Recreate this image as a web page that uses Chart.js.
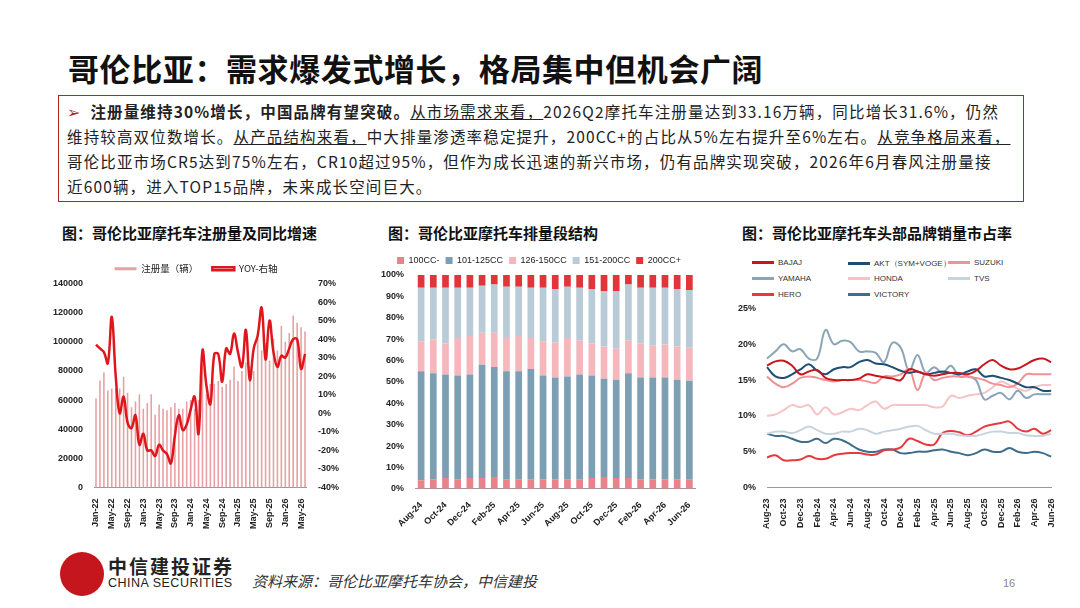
<!DOCTYPE html>
<html><head><meta charset="utf-8">
<script src="https://cdn.jsdelivr.net/npm/chart.js@4/dist/chart.umd.min.js"></script>
<style>
body{margin:0;width:1080px;height:608px;background:#fff;font-family:"Noto Sans CJK SC","Liberation Sans",sans-serif;position:relative;overflow:hidden}
.abs{position:absolute}
#title{left:68px;top:45px;font-size:31px;font-weight:bold;color:#111;letter-spacing:0.6px}
#box{left:58px;top:95px;width:966px;height:107px;border:1.5px solid #b0252a;box-sizing:border-box}
.ln{position:absolute;left:8px;font-size:15.5px;color:#222;white-space:nowrap;letter-spacing:1.15px}
.u{text-decoration:underline}
.ct{font-size:15px;font-weight:bold;color:#111;top:222px}
.cw{position:absolute}
.lg{position:absolute;font-family:"Liberation Sans";font-size:8px;color:#333;display:flex;align-items:center}
.lg i{display:inline-block;width:22px;height:3px;margin-right:4px}
</style></head><body>
<div id="title" class="abs">哥伦比亚：需求爆发式增长，格局集中但机会广阔</div>
<div id="box" class="abs">
<div class="ln" style="top:4px"><span style="color:#b0252a">➢</span>&nbsp;&nbsp;<b>注册量维持30%增长，中国品牌有望突破。</b><span class="u">从市场需求来看，</span>2026Q2摩托车注册量达到33.16万辆，同比增长31.6%，仍然</div>
<div class="ln" style="top:29px">维持较高双位数增长。<span class="u">从产品结构来看，</span>中大排量渗透率稳定提升，200CC+的占比从5%左右提升至6%左右。<span class="u">从竞争格局来看，</span></div>
<div class="ln" style="top:54px">哥伦比亚市场CR5达到75%左右，CR10超过95%，但作为成长迅速的新兴市场，仍有品牌实现突破，2026年6月春风注册量接</div>
<div class="ln" style="top:79px">近600辆，进入TOP15品牌，未来成长空间巨大。</div>
</div>
<div class="abs ct" style="left:62px">图：哥伦比亚摩托车注册量及同比增速</div>
<div class="abs ct" style="left:388px">图：哥伦比亚摩托车排量段结构</div>
<div class="abs ct" style="left:742px">图：哥伦比亚摩托车头部品牌销量市占率</div>
<div class="cw" style="left:50px;top:250px;width:292px;height:282px"><canvas id="c1"></canvas></div>
<div class="cw" style="left:378px;top:250px;width:322px;height:282px"><canvas id="c2"></canvas></div>
<div class="cw" style="left:735px;top:300px;width:330px;height:232px"><canvas id="c3"></canvas></div>
<div id="lg3"></div>
<div class="abs" style="left:60px;top:552px;width:44px;height:44px;border-radius:50%;background:#c4161c"></div>
<div class="abs" style="left:108px;top:552px;font-size:19px;font-weight:bold;color:#222;letter-spacing:2px">中信建投证券</div>
<div class="abs" style="left:108px;top:576px;font-size:12.5px;font-family:'Liberation Sans';color:#222;letter-spacing:0.5px">CHINA SECURITIES</div>
<div class="abs" style="left:252px;top:570px;font-size:15px;font-style:italic;color:#333">资料来源：哥伦比亚摩托车协会，中信建投</div>
<div class="abs" style="left:1003px;top:577px;font-size:11px;color:#888;font-family:'Liberation Sans'">16</div>
<script>
const months1 = [];
const mn = ["Jan","Feb","Mar","Apr","May","Jun","Jul","Aug","Sep","Oct","Nov","Dec"];
for (let y = 22; y <= 26; y++) for (let m = 0; m < 12; m++) { if (y === 26 && m > 5) break; months1.push(mn[m] + "-" + y); }
const regs = [61000,73500,79000,66500,68000,68000,68000,76000,65000,55000,59000,64000,54000,58000,64000,50000,57000,54000,53000,55000,58000,54000,54000,59000,60000,54000,60000,85000,64000,71000,71000,73000,69000,71000,74000,83000,73000,80000,86000,83000,80000,103000,94000,99000,87000,102000,94000,111000,100000,106000,118000,113000,110000,107000];
const yoy = [37,35,33,27,52,20,0,9,-5,-8,-1,-17,-11,-20,-20,-23,-17,-20,-22,-27,-12,-1,-9,-6,2,9,-11,34,15,5,32,32,17,35,32,43,33,25,45,18,35,42,57,29,50,33,25,31,30,35,40,40,24,32];

const months2 = ["Aug-24","Sep-24","Oct-24","Nov-24","Dec-24","Jan-25","Feb-25","Mar-25","Apr-25","May-25","Jun-25","Jul-25","Aug-25","Sep-25","Oct-25","Nov-25","Dec-25","Jan-26","Feb-26","Mar-26","Apr-26","May-26","Jun-26"];
const cc100 = [4,4.5,5,4.5,5,5,5.5,4.5,4.5,4.5,4.5,4.5,4.5,4.5,5,5.5,5,5,4.5,4.5,4.5,4.5,4.5];
const cc125 = [51,49.5,48.5,48.5,48.5,53,51.5,50.5,50.5,51.5,48.5,47.5,48,49,48,46,46,49,47.5,47.5,47.5,46.5,46];
const cc150 = [14,16,14.5,17.5,18,15,16,15.5,16.5,14.5,16,16.5,18,16,15,15,14.5,15.5,16,15,15.5,15.5,15.5];
const cc200 = [25,24,26,23.5,22.5,22,22.5,24,23,23.5,25,25,24,24.5,25.5,26,27,26,26,27,26.5,27,27];
const cc200p = [6,6,6,6,6,5,4.5,5.5,5.5,6,6,6.5,5.5,6,6.5,7.5,7.5,4.5,6,6,6,6.5,7];

const months3 = [];
for (let i = 7; i < 7 + 35; i++) months3.push(mn[i % 12] + "-" + (23 + Math.floor(i / 12)));
const brands = ["BAJAJ","AKT（SYM+VOGE）","SUZUKI","YAMAHA","HONDA","TVS","HERO","VICTORY"];
const bajaj = [17,17.6,17.7,17,15.8,16.2,16.4,15.3,15,15,15,15.2,15.8,15.6,15.4,15.2,15,16.5,16.2,15.8,15.6,15.8,16,16,15.8,16.3,17.2,17.8,17,16.5,16.6,17.2,17.8,18,17.5];
const akt = [16.8,15.5,15.3,15.8,16.5,17.2,16.3,15.8,16.5,16.8,16.8,17.5,17.8,17.3,17.2,16.8,16.3,16,16.2,15.8,16,16.2,16,15.8,16.2,16.5,15.5,15.6,15.3,15,14.5,14,14,13.5,13.5];
const suzuki = [15.5,14.5,14,14.5,15.3,15.5,15.3,15,14.8,15,15,15,14.8,14.6,15.5,15.5,15.8,16.5,13.6,16,15,15.3,15.5,15.5,15.5,15.3,15,14.5,14.3,14,14.5,15.8,15.8,15.8,15.8];
const yamaha = [18,19,20,19,19.3,18,18,22,20,20.5,20.3,19,19,18.8,17.5,20.2,19.5,16.3,18.5,16,16.8,16,17,15.5,15.5,15,12.3,12.8,13.2,12.3,13.5,12.5,13,13,13];
const honda = [10,10.2,10.8,11.5,11.2,11.5,10.2,11.2,10.2,10.5,11,10.8,11.5,12,11,11.5,11.5,11.5,11.5,11.5,11.2,11.3,12.8,12.5,12.8,13,13.2,14,14.8,14.3,13.8,13.5,14,14.3,14.3];
const tvs = [7.5,7.8,7.8,7.6,8,8.5,8,7.5,7.5,7.8,7.8,8.2,8,7.5,7.8,8,8.2,8.5,8.6,8,7.5,7.5,7.5,7.3,7.2,7.2,7.5,7.8,7.8,7.6,7.6,7.3,7.2,7.2,7.5];
const hero = [4.2,4.5,3.8,3.8,3.9,4.4,4,4,4.5,4.7,4.8,4.8,4.6,4.6,5.2,5.3,5.6,6.8,6.5,6,6,7.6,7.9,7.7,7.3,7.8,8.5,8.8,9,9.2,8.2,7.8,8.2,7.5,8];
const victory = [7.5,7.2,7.2,6.8,6.4,6.4,6.8,6.2,6.8,6.6,6,5.3,5,5,5.3,5.3,4.8,4.8,5,5,5.2,5.3,5,4.8,4.5,4.8,5.3,5,5,5.5,5,4.8,5,4.8,4.3];
const brandColors = ["#c8161d","#1d4e73","#f09195","#8aa5b6","#f5c2c5","#c6d4de","#e5393e","#3e6d8c"];

Chart.defaults.font.family = "Liberation Sans";
Chart.defaults.font.size = 9;
Chart.defaults.color = "#222";
Chart.defaults.animation = false;
Chart.defaults.maintainAspectRatio = false;
const tk = {font:{size:9,weight:"bold"},color:"#222"};

new Chart("c1", {
  data: {
    labels: months1,
    datasets: [
      {type:"line", label:"YOY-右轴", data:yoy, borderColor:"#e0161d", borderWidth:2.5, pointRadius:0, tension:0.4, yAxisID:"y1"},
      {type:"bar", label:"注册量（辆）", data:regs, backgroundColor:"#e8a0a4", barPercentage:0.4, categoryPercentage:1, yAxisID:"y"}
    ]
  },
  options: {
    plugins:{legend:{reverse:true,labels:{boxWidth:22,boxHeight:3,font:{size:9.5,family:"Noto Sans CJK SC"},padding:14}}},
    scales:{
      x:{grid:{display:false},border:{color:"#999"},ticks:{...tk,autoSkip:false,maxRotation:90,minRotation:90,callback:(v,i)=>i%4===0?months1[i]:""}},
      y:{min:0,max:140000,ticks:{...tk,stepSize:20000,callback:v=>String(v)},grid:{display:false},border:{display:false}},
      y1:{position:"right",min:-40,max:70,ticks:{...tk,stepSize:10,callback:v=>v+"%"},grid:{display:false},border:{display:false}}
    }
  }
});

const segs = [["100CC-",cc100,"#e9828b"],["101-125CC",cc125,"#7c9fb4"],["126-150CC",cc150,"#f5b7bb"],["151-200CC",cc200,"#b9cbd7"],["200CC+",cc200p,"#e2353b"]];
new Chart("c2", {
  type:"bar",
  data:{labels:months2, datasets:segs.map(s=>({label:s[0],data:s[1],backgroundColor:s[2],barPercentage:0.55,categoryPercentage:1}))},
  options:{
    plugins:{legend:{labels:{boxWidth:7,boxHeight:7,padding:6,font:{size:9}}}},
    scales:{
      x:{stacked:true,grid:{display:false},border:{color:"#999"},ticks:{...tk,autoSkip:false,maxRotation:45,minRotation:45,callback:(v,i)=>i%2===0?months2[i]:""}},
      y:{stacked:true,min:0,max:100,ticks:{...tk,stepSize:10,callback:v=>v+"%"},grid:{display:false},border:{display:false}}
    }
  }
});

const series3 = [bajaj,akt,suzuki,yamaha,honda,tvs,hero,victory];
new Chart("c3", {
  type:"line",
  data:{labels:months3, datasets:series3.map((d,i)=>({label:brands[i],data:d,borderColor:brandColors[i],borderWidth:2,pointRadius:0,tension:0.4}))},
  options:{
    plugins:{legend:{display:false}},
    scales:{
      x:{grid:{display:false},border:{color:"#999"},ticks:{...tk,autoSkip:false,maxRotation:90,minRotation:90,callback:(v,i)=>i%2===0?months3[i]:""}},
      y:{min:0,max:25,ticks:{...tk,stepSize:5,callback:v=>v+"%"},grid:{display:false},border:{display:false}}
    }
  }
});

const lgPos = [[752,258],[848,258],[948,258],[752,274],[848,274],[948,274],[752,290],[848,290]];
document.getElementById("lg3").innerHTML = brands.map((b,i)=>
  `<div class="lg" style="left:${lgPos[i][0]}px;top:${lgPos[i][1]}px"><i style="background:${brandColors[i]}"></i>${b}</div>`).join("");
</script>
</body></html>
